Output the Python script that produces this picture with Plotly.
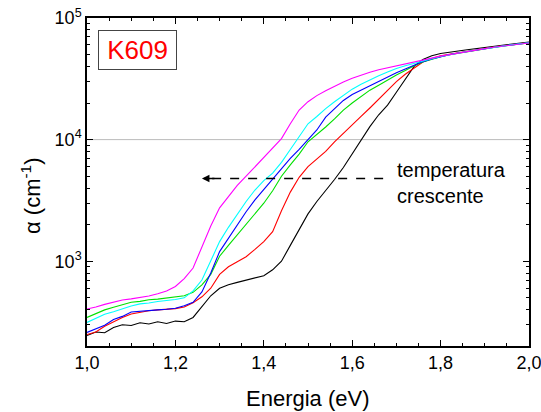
import plotly.graph_objects as go

energy = [1.00, 1.02, 1.04, 1.06, 1.08, 1.10, 1.12, 1.14, 1.16, 1.18,
          1.20, 1.22, 1.24, 1.26, 1.28, 1.30, 1.32, 1.34, 1.36, 1.38,
          1.40, 1.42, 1.44, 1.46, 1.48, 1.50, 1.52, 1.54, 1.56, 1.58,
          1.60, 1.62, 1.64, 1.66, 1.68, 1.70, 1.72, 1.74, 1.76, 1.78,
          1.80, 1.82, 1.84, 1.86, 1.88, 1.90, 1.92, 1.94, 1.96, 1.98, 2.00]

alpha_black = [245, 262, 258, 285, 300, 296, 312, 305, 318, 308,
               322, 318, 345, 420, 520, 600, 640, 670, 700, 725,
               760, 850, 1000, 1350, 1800, 2450, 3100, 3800, 4700, 5900,
               7700, 9900, 12800, 16000, 19200, 24500, 31000, 40000, 45500, 49000,
               51000, 52500, 53500, 54800, 56000, 57200, 58500, 59800, 61000, 62200, 63500]

alpha_red = [250, 262, 292, 318, 345, 368, 382, 392, 398, 402,
             408, 420, 455, 510, 600, 780, 900, 990, 1090, 1250,
             1450, 1750, 2600, 3700, 4900, 6000, 6900, 8000, 9600, 11200,
             13300, 15500, 18200, 21500, 25500, 30000, 34500, 39000, 43500, 46500,
             48800, 50300, 51800, 53300, 54800, 56300, 57700, 59000, 60300, 61500, 62700]

alpha_green = [345, 372, 398, 418, 438, 460, 468, 482, 488, 497,
               505, 520, 555, 640, 780, 1100, 1350, 1650, 2000, 2450,
               3000, 3800, 5000, 6200, 7600, 9600, 11000, 12700, 14800, 17500,
               20000, 22500, 25500, 28000, 31000, 34000, 37000, 40500, 43500, 45800,
               48000, 49900, 51400, 52900, 54400, 55900, 57300, 58700, 60000, 61200, 62400]

alpha_blue = [260, 278, 298, 332, 352, 382, 388, 397, 398, 403,
              410, 430, 460, 560, 800, 1200, 1550, 2000, 2550, 3200,
              3900, 4700, 5800, 7000, 8300, 9900, 12000, 15300, 18000, 21000,
              23500, 25500, 28000, 30500, 33000, 35500, 38000, 41000, 43800, 46000,
              48200, 50000, 51500, 53000, 54500, 56000, 57400, 58800, 60100, 61300, 62500]

alpha_cyan = [314, 338, 366, 384, 406, 428, 446, 453, 467, 474,
              485, 500, 570, 700, 1000, 1450, 1900, 2450, 3100, 3850,
              4600, 5300, 6500, 8300, 10600, 13500, 15500, 18000, 20500, 23000,
              26000, 28500, 31000, 33500, 36000, 38500, 40500, 42500, 44300, 46200,
              48300, 50000, 51500, 53000, 54500, 56000, 57400, 58800, 60100, 61300, 62500]

alpha_magenta = [405, 420, 442, 458, 480, 490, 502, 518, 540, 570,
                 620, 720, 880, 1300, 1950, 2750, 3400, 4200, 5000, 6000,
                 7200, 8500, 10200, 13500, 17500, 20500, 23000, 25200, 27500, 29800,
                 32000, 34000, 35800, 37500, 39000, 40500, 42000, 43500, 45000, 46800,
                 48600, 50100, 51600, 53100, 54600, 56000, 57400, 58700, 60000, 61200, 62300]

series = [
    ("black", alpha_black, "#000000"),
    ("red", alpha_red, "#FF0000"),
    ("green", alpha_green, "#00E000"),
    ("blue", alpha_blue, "#0000FF"),
    ("cyan", alpha_cyan, "#00FFFF"),
    ("magenta", alpha_magenta, "#FF00FF"),
]

x_ticks = [1.0, 1.2, 1.4, 1.6, 1.8, 2.0]
x_ticktext = ["1,0", "1,2", "1,4", "1,6", "1,8", "2,0"]
y_ticks = [1e3, 1e4, 1e5]
y_ticktext = ["10<sup>3</sup>", "10<sup>4</sup>", "10<sup>5</sup>"]

FONT = "Liberation Sans"

fig = go.Figure()
for name, vals, col in series:
    fig.add_trace(go.Scatter(x=energy, y=vals, mode="lines", name=name,
                             line=dict(color=col, width=1.1), showlegend=False))

# reference line at 10^4
fig.add_shape(type="line", xref="paper", x0=0, x1=1, yref="y", y0=1e4, y1=1e4,
              line=dict(color="#BBBBBB", width=1), layer="below")

# dashed arrow
fig.add_shape(type="line", xref="x", yref="y", x0=1.67, x1=1.275, y0=4800, y1=4800,
              line=dict(color="black", width=1.5, dash="dash"))
fig.add_annotation(x=1.26, y=3.681, xref="x", yref="y", ax=14, ay=0, text="",
                   showarrow=True, arrowhead=2, arrowsize=1, arrowwidth=1.5,
                   arrowcolor="black")

fig.add_annotation(x=1.697, y=3.64, xref="x", yref="y", xanchor="left", yanchor="middle",
                   text="temperatura<br>crescente", showarrow=False, align="left",
                   font=dict(family=FONT, size=20, color="black"))

fig.add_annotation(x=(137.5 - 87) / 442, y=(346 - 50) / 328, xref="paper", yref="paper",
                   xanchor="center", yanchor="middle",
                   text="K609", showarrow=False,
                   font=dict(family=FONT, size=26, color="#FF0000"),
                   bordercolor="#444444", borderwidth=1, borderpad=4,
                   width=69, height=30, bgcolor="white")

# axis titles
fig.add_annotation(x=0.5, y=(346 - 398) / 328, xref="paper", yref="paper",
                   xanchor="center", yanchor="middle", showarrow=False,
                   text="Energia (eV)", font=dict(family=FONT, size=22, color="black"))
fig.add_annotation(x=(31 - 87) / 442, y=(346 - 196) / 328, xref="paper", yref="paper",
                   xanchor="center", yanchor="middle", showarrow=False, textangle=-90,
                   text="α (cm<sup>-1</sup>)", font=dict(family=FONT, size=22, color="black"))

axis_common = dict(showline=True, linecolor="black", linewidth=1.5, mirror="ticks",
                   ticks="inside", tickcolor="black", tickwidth=1, ticklen=6,
                   showgrid=False, zeroline=False, automargin=False,
                   ticklabeloverflow="allow",
                   tickfont=dict(family=FONT, size=18, color="black"))

fig.update_xaxes(range=[1.0, 2.0], tickvals=x_ticks, ticktext=x_ticktext,
                 minor=dict(dtick=0.05, ticks="inside", ticklen=3, tickcolor="black"),
                 **axis_common)
fig.update_yaxes(type="log", range=[2.303, 5.0], tickvals=y_ticks, ticktext=y_ticktext,
                 minor=dict(ticks="inside", ticklen=3, tickcolor="black", dtick="D1"),
                 **axis_common)

fig.update_layout(width=541, height=412, margin=dict(l=87, r=12, t=18, b=66),
                  plot_bgcolor="white", paper_bgcolor="white",
                  font=dict(family=FONT, color="black"))

fig.write_html("out.html", config={"displayModeBar": False},
               post_script="document.body.style.margin='0';document.body.style.overflow='hidden';")
